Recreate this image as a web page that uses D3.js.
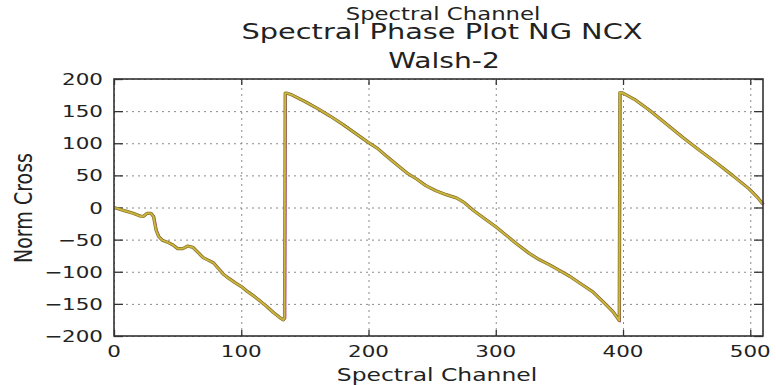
<!DOCTYPE html>
<html>
<head>
<meta charset="utf-8">
<script src="https://cdn.jsdelivr.net/npm/d3@7/dist/d3.min.js"></script>
<style>
  body { margin: 0; background: #fff; }
  text { font-family: "DejaVu Sans", sans-serif; fill: #222; }
</style>
</head>
<body>
<div id="chart"></div>
<script>
// phase trace (channel, degrees)
const channels = [0, 5, 10, 15, 20, 23, 26, 29, 31, 33, 35, 38, 42, 46, 50, 54, 58, 62, 66, 70, 74, 78, 82, 86, 90, 95, 100, 105, 110, 115, 120, 125, 130, 133, 134,
  134.5, 136, 140, 150, 160, 170, 180, 190, 200, 207, 214, 222, 230, 238, 245, 253, 261, 269, 275, 282, 291, 300, 308, 316, 326, 334, 342, 350, 358, 367, 376, 385, 392, 397,
  397.5, 400, 410, 421, 434, 447, 460, 473, 486, 499, 505, 510];
const phase = [0, -3, -6, -9, -13, -14, -9, -9, -14, -35, -45, -51, -54, -58, -64, -64, -60, -62, -70, -78, -82, -86, -95, -104, -110, -117, -123, -131, -138, -146, -154, -163, -171, -175, -172,
  178, 178, 175, 165, 154, 142, 129, 115, 101, 92, 80, 67, 54, 44, 34, 26, 20, 15, 8, -4, -17, -30, -43, -56, -71, -81, -89, -98, -107, -119, -131, -148, -162, -176,
  179, 178, 167, 151, 130, 109, 89, 70, 50, 29, 17, 5];

const xTicks = [0, 100, 200, 300, 400, 500];
const yTicks = [-200, -150, -100, -50, 0, 50, 100, 150, 200];
const titles = ["Spectral Channel", "Spectral Phase Plot NG NCX", "Walsh-2"];

const W = 776, H = 385;
const SX = 1.34; // the picture is stretched sideways
const mLeft = 114, mRight = 763, mTop = 79, mBottom = 336;

const svg = d3.select("#chart").append("svg")
  .attr("width", W)
  .attr("height", H);

const x = d3.scaleLinear().domain([0, 510]).range([mLeft, mRight]);
const y = d3.scaleLinear().domain([-200, 200]).range([mBottom, mTop]);

function label(px, py, str, size, anchor) {
  return svg.append("text")
    .attr("transform", `translate(${px},${py}) scale(${SX},1)`)
    .attr("text-anchor", anchor)
    .style("font-size", size + "px")
    .text(str);
}

// grid
svg.append("g")
  .attr("transform", `translate(0,${mBottom})`)
  .call(d3.axisBottom(x).tickValues(xTicks).tickSize(-(mBottom - mTop)).tickFormat(""))
  .call(g => g.select(".domain").remove())
  .selectAll("line")
  .attr("stroke", "#8a8a8a")
  .attr("stroke-dasharray", "2,4");

svg.append("g")
  .attr("transform", `translate(${mLeft},0)`)
  .call(d3.axisLeft(y).tickValues(yTicks).tickSize(-(mRight - mLeft)).tickFormat(""))
  .call(g => g.select(".domain").remove())
  .selectAll("line")
  .attr("stroke", "#8a8a8a")
  .attr("stroke-dasharray", "2,4");

// inward ticks on all four sides
function ticks(axis, tx, ty) {
  svg.append("g")
    .attr("transform", `translate(${tx},${ty})`)
    .call(axis.tickFormat(""))
    .call(g => g.select(".domain").remove())
    .selectAll("line")
    .attr("stroke", "#333")
    .attr("stroke-width", 1.3);
}
ticks(d3.axisBottom(x).tickValues(xTicks).tickSize(-6), 0, mBottom);
ticks(d3.axisTop(x).tickValues(xTicks).tickSize(-6), 0, mTop);
ticks(d3.axisLeft(y).tickValues(yTicks).tickSize(-9), mLeft, 0);
ticks(d3.axisRight(y).tickValues(yTicks).tickSize(-9), mRight, 0);

// trace
const pts = channels.map((c, i) => [c, phase[i]]);
const line = d3.line().x(d => x(d[0])).y(d => y(d[1]));

svg.append("path")
  .datum(pts)
  .attr("d", line)
  .attr("fill", "none")
  .attr("stroke", "#c040c8")
  .attr("stroke-width", 1.6)
  .attr("transform", "translate(1,0)");

svg.append("path")
  .datum(pts)
  .attr("d", line)
  .attr("fill", "none")
  .attr("stroke", "#84752a")
  .attr("stroke-width", 3.2)
  .attr("stroke-linejoin", "round");

svg.append("path")
  .datum(pts)
  .attr("d", line)
  .attr("fill", "none")
  .attr("stroke", "#cdb63c")
  .attr("stroke-width", 1.8)
  .attr("stroke-linejoin", "round");

// frame
svg.append("rect")
  .attr("x", mLeft)
  .attr("y", mTop)
  .attr("width", mRight - mLeft)
  .attr("height", mBottom - mTop)
  .attr("fill", "none")
  .attr("stroke", "#333")
  .attr("stroke-width", 1.6);

// tick labels
xTicks.forEach(t => label(x(t), 357, t, 16, "middle"));
yTicks.forEach(t => label(mLeft - 11, y(t) + 6, t < 0 ? "\u2212" + Math.abs(t) : t, 16, "end"));

// axis titles
label(437, 381, "Spectral Channel", 17.5, "middle");
svg.append("text")
  .attr("transform", `translate(32,208) rotate(-90) scale(1,${SX})`)
  .attr("text-anchor", "middle")
  .style("font-size", "19px")
  .text("Norm Cross");

// titles
label(443, 19.5, titles[0], 17, "middle");
label(442, 39, titles[1], 21.5, "middle");
label(444, 67.5, titles[2], 21, "middle");
</script>
</body>
</html>
